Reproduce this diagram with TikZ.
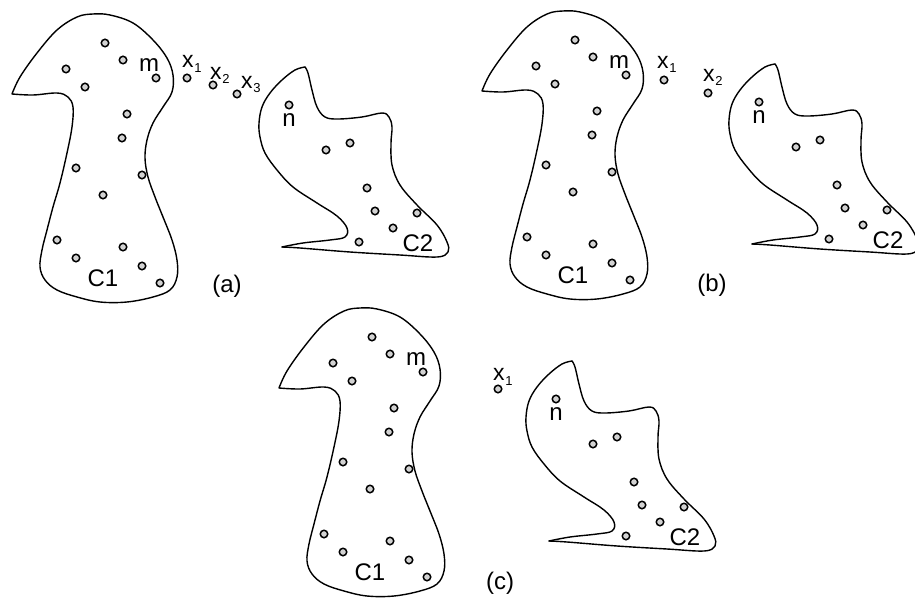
\documentclass[tikz,border=0pt]{standalone}
\usepackage{fontspec}
\setmainfont{Liberation Sans}
\newcommand{\xs}[1]{x\kern0.6pt\raisebox{-4.5pt}{\fontsize{13}{13}\selectfont #1}}
\newcommand{\ConeOutline}{%
  \draw[outline] plot[smooth, tension=0.6] coordinates {
    (12,94) (20,77) (37,53) (57,30) (77,17) (93,14) (110,15) (133,23)
    (153,40) (167,58) (173,75) (172,92) (163,107) (153,123) (147,140)
    (145,158) (148,177) (155,197) (163,217) (172,240) (177,260) (177,277)
    (170,290) (153,297) (127,302) (100,302) (77,297) (57,290) (45,280)
    (40,267) (42,250) (47,230) (53,207) (60,183) (67,153) (72,127)
    (73,107) (68,97) (57,93) (33,95) (12,94)};}
\newcommand{\CtwoOutline}{%
  \draw[outline] plot[smooth, tension=0.6] coordinates {
    (305,67) (295,70) (282,80) (270,93) (262,107) (259,123) (260,137)
    (265,153) (277,170) (293,187) (317,203) (337,216) (347,228) (345,237)
    (330,240) (303,243) (282,247)};
  \draw[outline] plot[smooth, tension=0.6] coordinates {
    (282,247) (300,248) (350,252) (400,255) (437,257) (448,252) (447,242)
    (437,225) (417,205) (400,185) (392,165) (391,143) (392,127) (389,117)
    (382,113) (362,117) (338,119) (325,117) (317,107) (312,90) (308,73)
    (305,67)};}
\newcommand{\Cpoints}[1]{%
  \foreach \p [count=\i] in {(105,43),(123,60),(66,69),(85,87),(156,78),
      (127,114),(122,138),(76,168),(142,175),(103,195),(57,240),(76,258),
      (123,247),(142,266),(160,283)}
    \node[pt] (#1c1p\i) at \p {};
  \foreach \p [count=\i] in {(289,105),(326,150),(350,143),(367,188),
      (375,211),(417,213),(393,228),(359,242)}
    \node[pt] (#1c2p\i) at \p {};
  \node[lbl] (#1m) at (149,65) {m};
  \node[lbl] (#1n) at (289,120) {n};
  \node[lbl] (#1C1) at (103,278) {C1};
  \node[lbl] (#1C2) at (418,243) {C2};}
\begin{document}
\begin{tikzpicture}[x=1pt,y=-1pt,
  outline/.style={line width=1.4pt, line join=round, line cap=round},
  pt/.style={circle, draw=black, fill=gray!35, line width=1.5pt,
    minimum size=7.5pt, inner sep=0pt},
  lbl/.style={font=\fontsize{24}{24}\selectfont, inner sep=0pt},
  xl/.style={font=\fontsize{23}{23}\selectfont, inner sep=0pt, anchor=base west}]
\useasboundingbox (0,0) rectangle (915,599);
\clip (0,0) rectangle (915,599);
% panel (a)
\ConeOutline
\CtwoOutline
\Cpoints{a}
\node[pt] (ax1) at (187,78) {};
\node[pt] (ax2) at (213,85) {};
\node[pt] (ax3) at (237,94) {};
\node[xl] (ax1l) at (182,68) {\xs{1}};
\node[xl] (ax2l) at (210,79.5) {\xs{2}};
\node[xl] (ax3l) at (241,88.5) {\xs{3}};
\node[lbl] (alab) at (227,286) {(a)};
% panel (b)
\begin{scope}[shift={(470,-3)}]
\ConeOutline
\CtwoOutline
\Cpoints{b}
\end{scope}
\node[pt] (bx1) at (664,80) {};
\node[pt] (bx2) at (708,93) {};
\node[xl] (bx1l) at (657,68.5) {\xs{1}};
\node[xl] (bx2l) at (703,81.5) {\xs{2}};
\node[lbl] (blab) at (712,285) {(b)};
% panel (c)
\begin{scope}[shift={(267,294)}]
\ConeOutline
\CtwoOutline
\Cpoints{c}
\end{scope}
\node[pt] (cx1) at (498,389) {};
\node[xl] (cx1l) at (493,380.5) {\xs{1}};
\node[lbl] (clab) at (500,583) {(c)};
\end{tikzpicture}
\end{document}
